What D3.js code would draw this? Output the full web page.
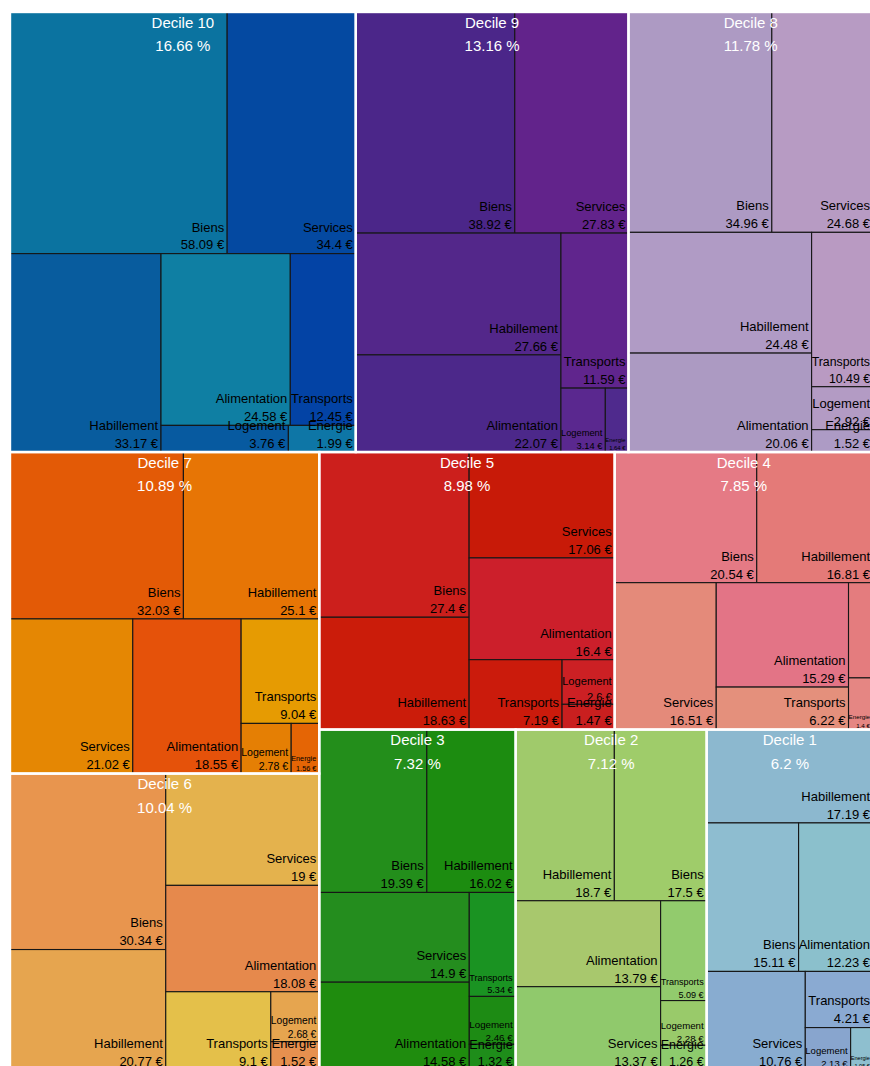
<!DOCTYPE html>
<html>
<head>
<meta charset="utf-8">
<script src="https://cdn.jsdelivr.net/npm/d3@7"></script>
<style>
  body { margin: 0; background: #fff; }
  svg { display: block; font-family: "Liberation Sans", Arial, Helvetica, sans-serif; }
</style>
</head>
<body>
<div id="chart"></div>
<script>
// top level: deciles and their share (%)
const deciles = ["Decile 10", "Decile 9", "Decile 8", "Decile 7", "Decile 6",
                 "Decile 5", "Decile 4", "Decile 3", "Decile 2", "Decile 1"];
const decileShare = [16.66, 13.16, 11.78, 10.89, 10.04, 8.98, 7.85, 7.32, 7.12, 6.2];

// second level: spending per category (€), same order as categories
const categories = ["Biens", "Services", "Habillement", "Alimentation", "Transports", "Logement", "Energie"];
const d10 = [58.09, 34.4, 33.17, 24.58, 12.45, 3.76, 1.99];
const d9 = [38.92, 27.83, 27.66, 22.07, 11.59, 3.14, 1.64];
const d8 = [34.96, 24.68, 24.48, 20.06, 10.49, 2.92, 1.52];
const d7 = [32.03, 21.02, 25.1, 18.55, 9.04, 2.78, 1.56];
const d6 = [30.34, 19, 20.77, 18.08, 9.1, 2.68, 1.52];
const d5 = [27.4, 17.06, 18.63, 16.4, 7.19, 2.6, 1.47];
const d4 = [20.54, 16.51, 16.81, 15.29, 6.22, 2.58, 1.4];
const d3v = [19.39, 14.9, 16.02, 14.58, 5.34, 2.46, 1.32];
const d2 = [17.5, 13.37, 18.7, 13.79, 5.09, 2.28, 1.26];
const d1 = [15.11, 10.76, 17.19, 12.23, 4.21, 2.13, 1.05];
const decileValues = [d10, d9, d8, d7, d6, d5, d4, d3v, d2, d1];

// couleurs des cases, par décile puis par catégorie
const palette = [
  ["#0b73a0", "#0449a1", "#085c9e", "#0f7fa3", "#0343a5", "#075aa0", "#0e76a6"],
  ["#4b2689", "#62238b", "#53278a", "#4c288a", "#60258d", "#5a288f", "#4f2a8d"],
  ["#ad9ac3", "#b79bc3", "#b09bc5", "#ac9ac2", "#b99ac2", "#b39bc4", "#ad9bc5"],
  ["#e35a06", "#e58703", "#e77505", "#e5520a", "#e69b02", "#e57f04", "#e56505"],
  ["#e8954e", "#e4b24d", "#e6a54f", "#e6894c", "#e4c04a", "#e6a54f", "#e6904f"],
  ["#cc1f1c", "#c81a08", "#cb1c0a", "#cc1f2b", "#cb1b0c", "#cc2024", "#c91f1f"],
  ["#e57a85", "#e48a7a", "#e47a78", "#e37486", "#e4907c", "#e47c7e", "#e58683"],
  ["#238e1b", "#248d1e", "#1c8c10", "#1f8c0e", "#1a9322", "#1d8b14", "#1e8d1a"],
  ["#9fcc6a", "#90c96c", "#a0ca6b", "#a8c86d", "#92cb6d", "#99ca6a", "#8dcb6d"],
  ["#8ebdd0", "#88acd0", "#8cb8cf", "#8bc0cc", "#8aaad2", "#88a5ce", "#8ebfcf"]
];

const width = 870, height = 1066;
const svg = d3.select("#chart").append("svg")
  .attr("width", width).attr("height", height);
svg.append("rect").attr("width", width).attr("height", height).attr("fill", "#fff");

const treeData = {
  name: "root",
  children: deciles.map((d, i) => ({
    name: d, share: decileShare[i], di: i,
    children: categories.map((c, j) => ({ name: c, value: decileValues[i][j], di: i, ci: j }))
  }))
};

// squarify : on garde une rangée tant que le ratio du plus grand élément s'améliore
function tileLargest(parent, x0, y0, x1, y1) {
  const nodes = parent.children;
  let value = parent.value, i0 = 0;
  while (i0 < nodes.length) {
    const dx = x1 - x0, dy = y1 - y0;
    const alpha = Math.max(dy / dx, dx / dy) / value;
    const first = nodes[i0].value;
    const ratioOf = s => { const b = s * s * alpha; return Math.max(first / b, b / first); };
    let i1 = i0 + 1, sum = first, best = ratioOf(sum);
    for (; i1 < nodes.length; ++i1) {
      const r = ratioOf(sum + nodes[i1].value);
      if (r > best) break;
      sum += nodes[i1].value;
      best = r;
    }
    const row = { value: sum, children: nodes.slice(i0, i1) };
    if (dx < dy) d3.treemapDice(row, x0, y0, x1, y0 += dy * sum / value);
    else d3.treemapSlice(row, x0, y0, x0 += dx * sum / value, y1);
    value -= sum;
    i0 = i1;
  }
}

const root = d3.hierarchy(treeData)
  .sum(d => d.value || 0)
  .sort((a, b) => b.value - a.value);

d3.treemap().tile(tileLargest).size([863, 1058]).round(false)(root);

const g = svg.append("g").attr("transform", "translate(10,12)");

const leaves = root.leaves();

g.selectAll("rect.leaf")
  .data(leaves)
  .enter().append("rect")
  .attr("class", "leaf")
  .attr("x", d => d.x0).attr("y", d => d.y0)
  .attr("width", d => d.x1 - d.x0).attr("height", d => d.y1 - d.y0)
  .attr("fill", d => palette[d.data.di][d.data.ci])
  .attr("stroke", "#161616").attr("stroke-width", 1.1);

g.selectAll("rect.decile")
  .data(root.children)
  .enter().append("rect")
  .attr("class", "decile")
  .attr("x", d => d.x0).attr("y", d => d.y0)
  .attr("width", d => d.x1 - d.x0).attr("height", d => d.y1 - d.y0)
  .attr("fill", "none").attr("stroke", "#fff").attr("stroke-width", 2.4);

// mesure du texte pour réduire la police dans les petites cases
const probe = svg.append("text").attr("font-size", 13).attr("visibility", "hidden");
function textLen(s) { probe.text(s); return probe.node().getComputedTextLength(); }

g.selectAll("g.lab")
  .data(leaves)
  .enter().append("g")
  .attr("class", "lab")
  .each(function (d) {
    const w = d.x1 - d.x0;
    const valTxt = d.data.value + " €";
    const maxLen = Math.max(textLen(d.data.name), textLen(valTxt));
    const fs = Math.min(13, 13 * (w - 3) / maxLen);
    if (fs < 5.2) return; // trop petit, pas d'étiquette
    const sel = d3.select(this);
    const xr = d.x1 - 3;
    sel.append("text")
      .attr("x", xr).attr("y", d.y1 - 0.32 * fs - 1.38 * fs)
      .attr("text-anchor", "end").attr("font-size", fs).attr("fill", "#000")
      .text(d.data.name);
    sel.append("text")
      .attr("x", xr).attr("y", d.y1 - 0.32 * fs)
      .attr("text-anchor", "end").attr("font-size", fs).attr("fill", "#000")
      .text(valTxt);
  });

probe.remove();

const heads = g.selectAll("g.head")
  .data(root.children)
  .enter().append("g")
  .attr("class", "head");

heads.append("text")
  .attr("x", d => (d.x0 + d.x1) / 2).attr("y", d => d.y0 + 15.5)
  .attr("text-anchor", "middle").attr("font-size", 15).attr("fill", "#fff")
  .text(d => d.data.name);

heads.append("text")
  .attr("x", d => (d.x0 + d.x1) / 2).attr("y", d => d.y0 + 39)
  .attr("text-anchor", "middle").attr("font-size", 15).attr("fill", "#fff")
  .text(d => d.data.share + " %");
</script>
</body>
</html>
